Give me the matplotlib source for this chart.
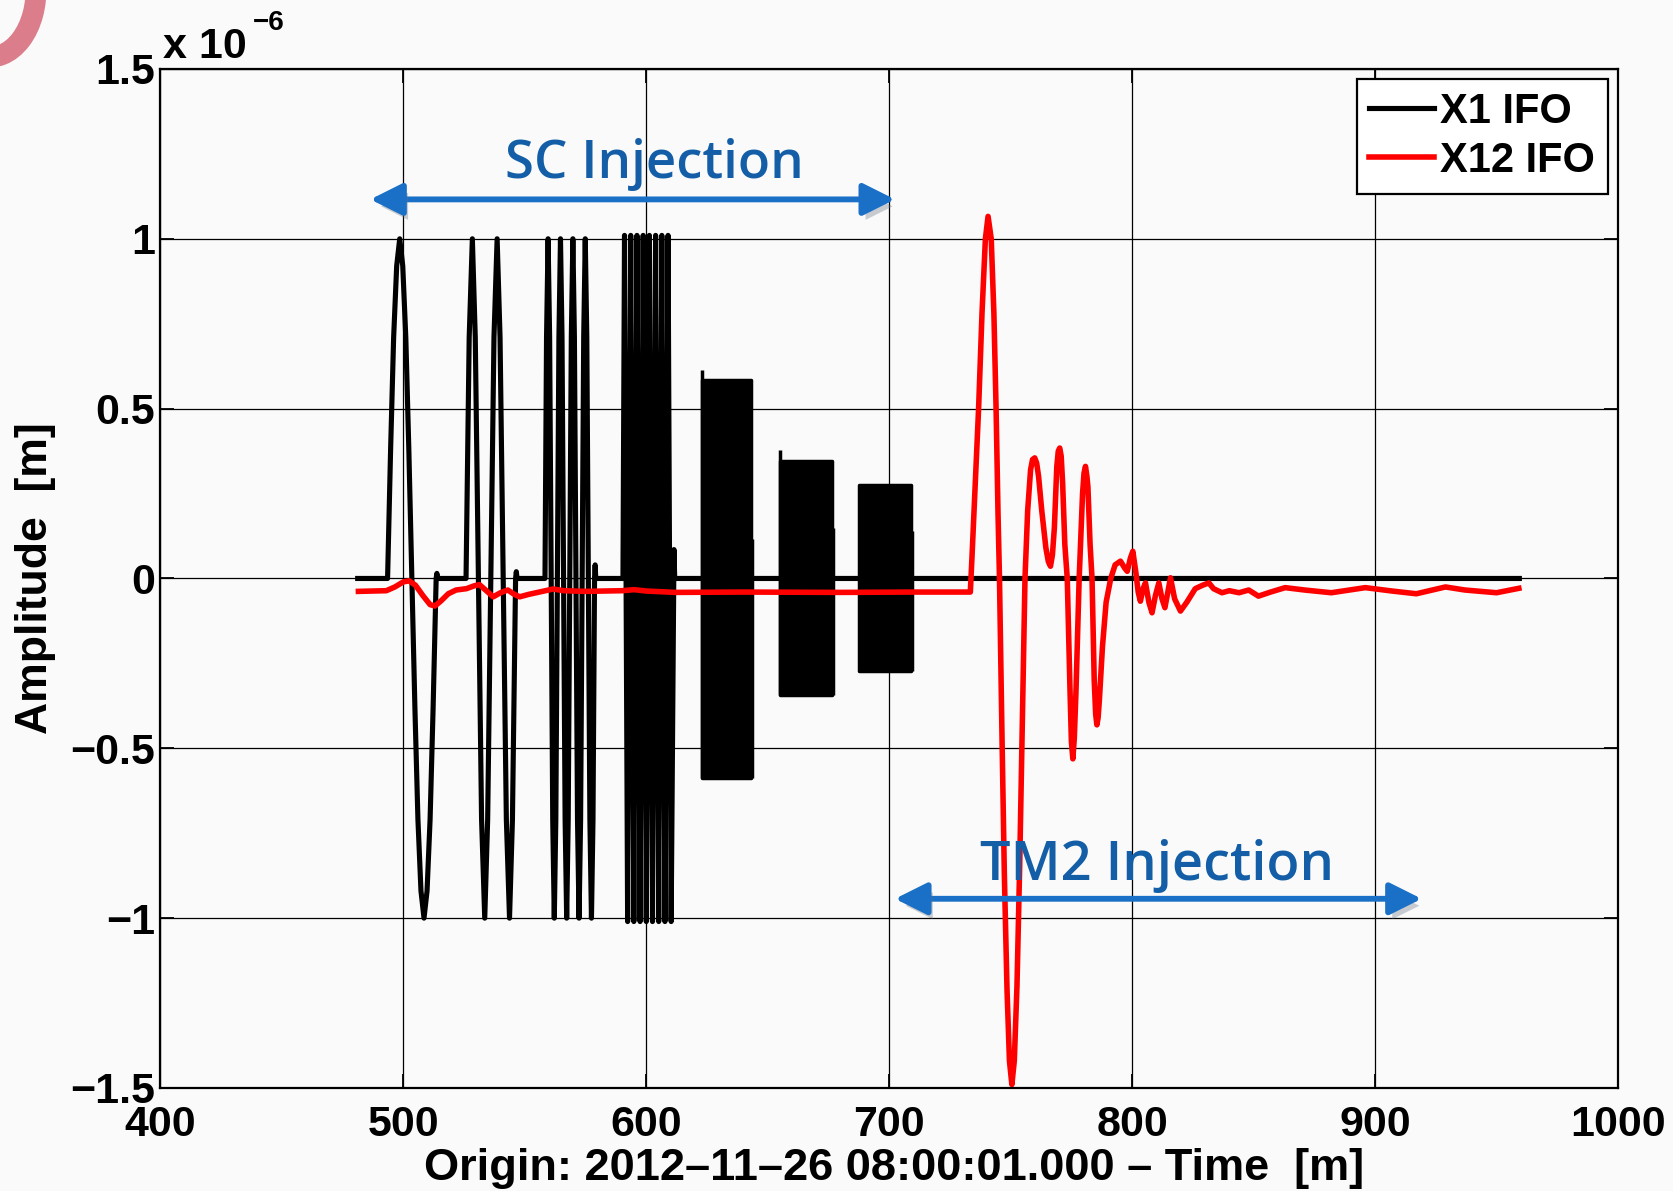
import matplotlib
matplotlib.use('Agg')
import matplotlib.pyplot as plt
import matplotlib.patheffects as pe
from matplotlib.patches import Arc
from matplotlib.transforms import IdentityTransform

# --- data (amplitude in units of 1e-6 m, time in minutes) ---
x_ticks = [400, 500, 600, 700, 800, 900, 1000]
y_ticks = [-1.5, -1, -0.5, 0, 0.5, 1, 1.5]
y_ticklabels = ['\u22121.5', '\u22121', '\u22120.5', '0', '0.5', '1', '1.5']

# X1 IFO: sine bursts
b1_t = [493.5, 494.75, 496.0, 497.25, 498.5, 499.75, 501.0, 502.25, 503.5,
        504.75, 506.0, 507.25, 508.5, 509.75, 511.0, 512.25, 513.5, 513.8, 514.1]
b1_y = [0, .38, .71, .92, 1, .92, .71, .38, 0,
        -.38, -.71, -.92, -1, -.92, -.71, -.38, 0, .015, 0]

b2_t = [525.8, 527.1, 528.4, 529.6, 530.9, 532.2, 533.5, 534.7, 536.0,
        537.3, 538.6, 539.8, 541.1, 542.4, 543.7, 544.9, 546.2, 546.5, 546.8]
b2_y = [0, .71, 1, .71, 0, -.71, -1, -.71, 0,
        .71, 1, .71, 0, -.71, -1, -.71, 0, .02, 0]

b3_t = [558.3, 558.94, 559.58, 560.21, 560.85, 561.49, 562.13, 562.76,
        563.4, 564.04, 564.68, 565.31, 565.95, 566.59, 567.23, 567.86,
        568.5, 569.14, 569.78, 570.41, 571.05, 571.69, 572.33, 572.96,
        573.6, 574.24, 574.88, 575.51, 576.15, 576.79, 577.43, 578.06,
        578.7, 578.95, 579.2]
b3_y = [0, .71, 1, .71, 0, -.71, -1, -.71,
        0, .71, 1, .71, 0, -.71, -1, -.71,
        0, .71, 1, .71, 0, -.71, -1, -.71,
        0, .71, 1, .71, 0, -.71, -1, -.71,
        0, .04, 0]

b4_t = [590.4, 591.04, 591.68, 592.32, 592.96, 593.6, 594.24, 594.88,
        595.52, 596.16, 596.8, 597.44, 598.08, 598.72, 599.36, 600.0,
        600.64, 601.28, 601.92, 602.56, 603.2, 603.84, 604.48, 605.12,
        605.76, 606.4, 607.04, 607.68, 608.32, 608.96, 609.6, 610.24,
        611.4, 611.7]
b4_y = [0, 1.01, 0, -1.01, 0, 1.01, 0, -1.01,
        0, 1.01, 0, -1.01, 0, 1.01, 0, -1.01,
        0, 1.01, 0, -1.01, 0, 1.01, 0, -1.01,
        0, 1.01, 0, -1.01, 0, 1.01, 0, -1.01,
        0.085, 0]

x1_t = [481.2] + b1_t + b2_t + b3_t + b4_t + [959.4]
x1_y = [0] + b1_y + b2_y + b3_y + b4_y + [0]

# X1 IFO: dense high-frequency blocks (envelope)
blk_start = [622.8, 655.0, 687.6]
blk_end = [643.3, 676.3, 708.8]
blk_top = [0.585, 0.345, 0.274]
blk_bot = [-0.586, -0.344, -0.273]
blk_spike = [0.613, 0.379, 0.274]
blk_tail = [0.115, 0.150, 0.139]

# X12 IFO
x12_t = [481.5, 493.0, 496.5, 500.0, 502.4, 505.0, 508.0, 511.0, 513.0,
         515.5, 518.5, 521.7, 526.0, 529.0, 531.3, 534.0, 537.0, 540.0,
         543.0, 545.5, 547.9, 551.5, 556.0, 561.7, 566.0, 575.0, 590.0,
         595.0, 600.0, 612.0, 640.0, 680.0, 710.0, 733.4,
         734.1, 735.5, 736.8, 738.2, 739.6, 740.7, 742.0, 743.1, 744.0,
         744.8, 745.4, 746.4, 747.4, 748.5, 749.5, 750.5, 751.5, 752.6,
         753.7, 754.8, 755.9, 757.0, 758.2, 759.0, 759.9, 760.7, 761.5,
         762.8, 764.5, 765.5, 766.4, 767.2, 768.0, 769.0, 769.6, 770.2,
         770.8, 771.4, 772.3, 773.3, 774.4, 775.0, 775.6, 776.2, 776.9,
         778.2, 779.6, 780.2, 780.8, 781.4, 781.8, 782.7, 783.5, 784.4,
         785.0, 785.5, 786.0, 786.5, 787.8, 789.3, 791.2, 793.0, 795.2,
         797.0, 798.0, 799.3, 800.3, 801.5, 802.5, 803.4, 804.5, 805.5,
         806.9, 808.2, 809.6, 811.0, 812.3, 813.5, 814.7, 815.8, 817.5,
         819.9, 822.5, 826.0, 829.0, 831.6, 833.5, 837.0, 840.0, 844.0,
         848.0, 852.0, 857.0, 863.0, 871.0, 882.0, 896.0, 907.0, 917.0,
         929.0, 937.0, 950.0, 959.2]
x12_y = [-0.038, -0.036, -0.025, -0.010, -0.007, -0.020, -0.050, -0.077, -0.081,
         -0.066, -0.045, -0.034, -0.030, -0.022, -0.018, -0.035, -0.054, -0.042,
         -0.034, -0.046, -0.054, -0.047, -0.040, -0.031, -0.036, -0.038, -0.036,
         -0.033, -0.037, -0.041, -0.040, -0.041, -0.040, -0.040,
         0.066, 0.29, 0.50, 0.78, 1.00, 1.066, 1.00, 0.78, 0.50,
         0.19, 0.0, -0.45, -0.87, -1.21, -1.42, -1.49, -1.42, -1.20,
         -0.85, -0.43, 0.0, 0.20, 0.32, 0.35, 0.355, 0.34, 0.30,
         0.20, 0.09, 0.05, 0.036, 0.07, 0.15, 0.33, 0.375, 0.384,
         0.36, 0.28, 0.10, 0.0, -0.32, -0.48, -0.531, -0.47, -0.33,
         0.0, 0.25, 0.31, 0.33, 0.30, 0.27, 0.10, 0.0, -0.30,
         -0.40, -0.431, -0.41, -0.36, -0.20, -0.07, 0.0, 0.04, 0.051,
         0.03, 0.021, 0.06, 0.08, 0.02, -0.04, -0.067, -0.03, -0.013,
         -0.07, -0.101, -0.05, -0.013, -0.06, -0.086, -0.04, 0.002, -0.06,
         -0.096, -0.07, -0.030, -0.020, -0.013, -0.030, -0.042, -0.036, -0.042,
         -0.034, -0.052, -0.040, -0.027, -0.034, -0.042, -0.027, -0.037, -0.045,
         -0.025, -0.034, -0.042, -0.029]

text_blue = '#135ea6'
arrow_blue = '#1a6fc6'
bg = '#fafafa'

plt.rcParams['font.family'] = ['Liberation Sans', 'DejaVu Sans']
plt.rcParams['font.weight'] = 'bold'
plt.rcParams['axes.labelweight'] = 'bold'

fig = plt.figure(figsize=(16.73, 11.91), dpi=100, facecolor=bg)
ax = fig.add_axes([0.0959, 0.0865, 0.8712, 0.8556])
ax.set_facecolor(bg)

ax.plot(x1_t, x1_y, color='black', lw=3.7, label='X1 IFO')
for s, e, t, b, sp, tl in zip(blk_start, blk_end, blk_top, blk_bot, blk_spike, blk_tail):
    ax.fill_between([s, e], [b, b], [t, t], color='black', lw=2.5)
    ax.vlines(s + 0.2, b, sp, color='black', lw=2.5)
    ax.vlines(e + 0.4, b, tl, color='black', lw=2.5)
ax.plot(x12_t, x12_y, color='red', lw=4, label='X12 IFO')

ax.set_xlim(400, 1000)
ax.set_ylim(-1.5, 1.5)
ax.set_xticks(x_ticks)
ax.set_yticks(y_ticks, y_ticklabels)
ax.tick_params(direction='in', length=10, width=1.3, top=True, right=True,
               labelsize=31)
ax.tick_params(axis='x', pad=12)
ax.tick_params(axis='y', pad=4)
ax.grid(True, color='black', lw=0.9)
for sp in ax.spines.values():
    sp.set_linewidth(1.6)

ax.set_xlabel('Origin: 2012\u201311\u201326 08:00:01.000 \u2013 Time  [m]',
              fontsize=32.5, va='center')
ax.xaxis.set_label_coords(0.503, -0.079)
ax.set_ylabel('Amplitude  [m]', fontsize=32, va='center')
ax.yaxis.set_label_coords(-0.086, 0.5)

fig.text(163 / 1673, 1 - 58 / 1191, 'x 10', fontsize=31, ha='left', va='baseline')
fig.text(253 / 1673, 1 - 30 / 1191, '\u22126', fontsize=20, ha='left', va='baseline')

leg = ax.legend(loc='upper right', fontsize=30, frameon=True, fancybox=False,
                edgecolor='black', framealpha=1, handlelength=1.55,
                handletextpad=0.15, borderpad=0.3, labelspacing=0.22,
                borderaxespad=0.25)
leg.get_frame().set_linewidth(1.6)
leg.get_frame().set_facecolor('white')

shadow = [pe.SimplePatchShadow(offset=(3, -5), shadow_rgbFace='#6a7480', alpha=0.35),
          pe.Normal()]
for xa, xb, ya in [(486.4, 702.4, 1.116), (702.4, 919.2, -0.943)]:
    ann = ax.annotate('', xy=(xa, ya), xytext=(xb, ya),
                      arrowprops=dict(arrowstyle='<|-|>,head_length=1.3,head_width=0.65',
                                      color=arrow_blue, lw=4.2, shrinkA=0, shrinkB=0,
                                      mutation_scale=15))
    ann.arrow_patch.set_path_effects(shadow)

ax.text(603.3, 1.18, 'SC Injection', ha='center', va='baseline', color=text_blue,
        fontsize=38, family='Open Sans', weight='semibold')
ax.text(810.1, -0.888, 'TM2 Injection', ha='center', va='baseline', color=text_blue,
        fontsize=39, family='Open Sans', weight='semibold')

# pink brush stroke in the top-left corner of the slide
fig.add_artist(Arc((-10, 1201), 92, 134, theta1=262, theta2=368, lw=15,
                   color='#d86f7e', alpha=0.9, transform=IdentityTransform()))

fig.savefig('out.png', dpi=100, facecolor=bg)
